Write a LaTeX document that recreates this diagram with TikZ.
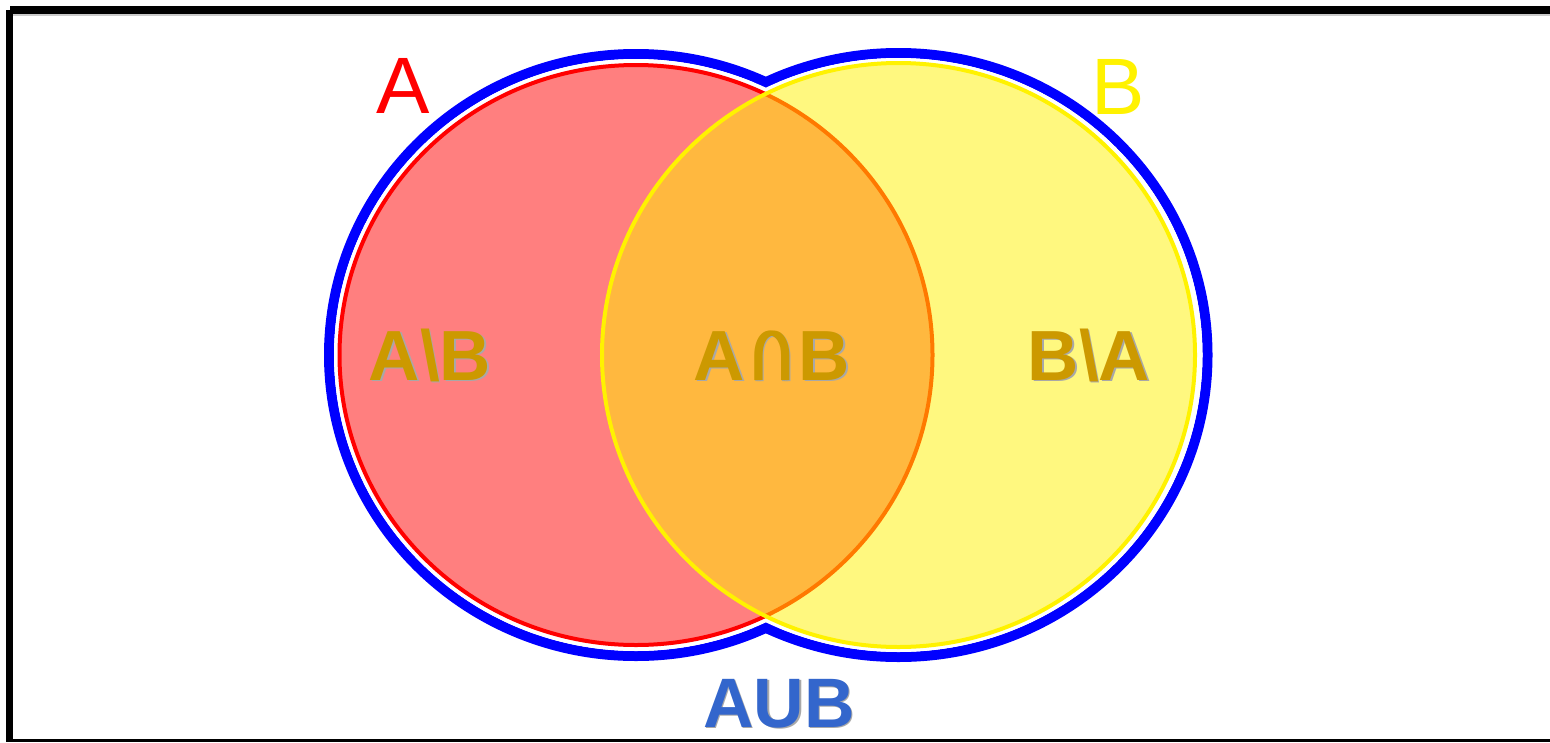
\documentclass[tikz,border=0pt]{standalone}
\usepackage{fontspec}
\setmainfont{Liberation Sans}
\definecolor{gold}{HTML}{CC9900}
\definecolor{unionblue}{HTML}{3366CC}
\definecolor{shadowgray}{HTML}{A8A8A8}
\newcommand{\onecapsym}{\scalebox{0.95}[1.38]{∩}}
\newcommand{\tallcapsym}{\rlap{\onecapsym}\kern1.6pt\rlap{\onecapsym}\kern1.6pt\rlap{\onecapsym}\kern1.6pt\onecapsym}
\tikzset{
  frameline/.style={fill=black},
  setlabel/.style={inner sep=0pt, anchor=base, font=\fontsize{80}{80}\selectfont},
  partlabel/.style={inner sep=0pt, anchor=base, font=\bfseries\fontsize{71}{71}\selectfont, text=gold},
  partshadow/.style={inner sep=0pt, anchor=base, font=\bfseries\fontsize{71}{71}\selectfont, text=shadowgray},
  unionlabel/.style={inner sep=0pt, anchor=base, font=\bfseries\fontsize{70}{70}\selectfont, text=unionblue},
  unionshadow/.style={inner sep=0pt, anchor=base, font=\bfseries\fontsize{70}{70}\selectfont, text=shadowgray},
  bluering/.style={draw=blue, line width=10pt},
}
\begin{document}
\begin{tikzpicture}[x=1pt, y=-1pt]
\useasboundingbox (0,0) rectangle (1550,742);
\fill[white] (0,0) rectangle (1550,742);
% frame
\fill[frameline] (6,10) rectangle (13,742);
\fill[frameline] (10,6) rectangle (1550,14);
\fill[shadowgray!60] (13,14) rectangle (1550,15.5);
\fill[frameline] (13,739) rectangle (1550,742);
% union outline
\draw[bluering] (636,355) ellipse [x radius=307, y radius=301];
\draw[bluering] (898.5,355) ellipse [x radius=309, y radius=302];
\fill[white] (636,355) ellipse [x radius=302, y radius=296];
\fill[white] (898.5,355) ellipse [x radius=304, y radius=297];
% set A
\fill[red, fill opacity=0.5] (636,355) ellipse [x radius=296.5, y radius=290];
\draw[red, line width=4pt] (636,355) ellipse [x radius=296.5, y radius=290];
% set B
\fill[yellow, fill opacity=0.5] (898.5,355) ellipse [x radius=296.5, y radius=292];
\draw[yellow, line width=4pt] (898.5,355) ellipse [x radius=296.5, y radius=292];
% labels
\node[setlabel, text=red] (lA) at (403,113) {A};
\node[setlabel, text=yellow] (lB) at (1118,114) {B};
\node[partshadow] (sAB) at (431.5,381.5) {A\textbackslash B};
\node[partlabel] (dAB) at (430,380) {A\textbackslash B};
\node[partshadow] (sI) at (773.5,381.5) {A\tallcapsym B};
\node[partlabel] (dI) at (772,380) {A\tallcapsym B};
\node[partshadow] (sBA) at (1090.5,381.5) {B\textbackslash A};
\node[partlabel] (dBA) at (1089,380) {B\textbackslash A};
\node[unionshadow] (sU) at (780.5,728.5) {AUB};
\node[unionlabel] (lU) at (779,727) {AUB};
\end{tikzpicture}
\end{document}
